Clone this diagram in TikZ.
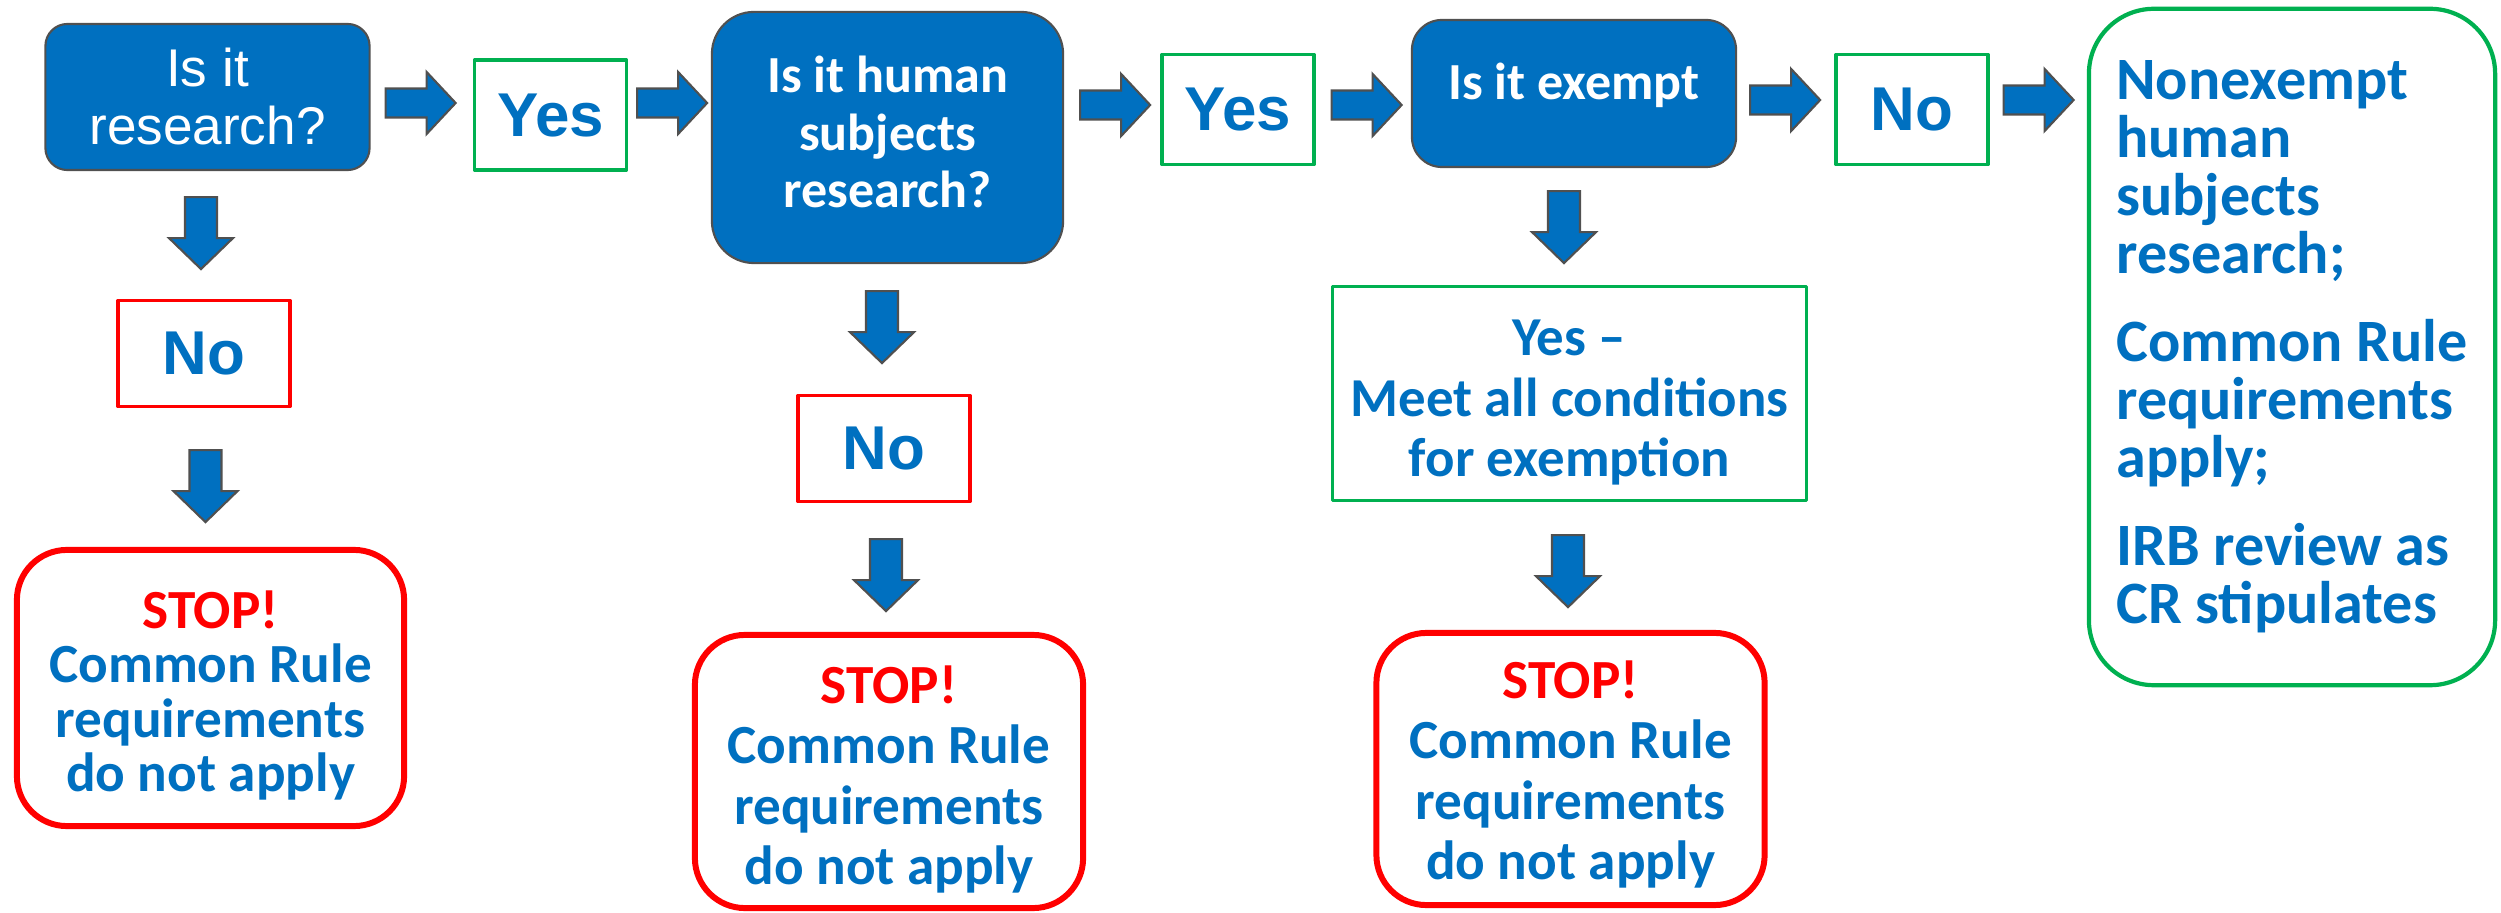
\documentclass[tikz,border=0pt]{standalone}
\usepackage{fontspec}
\newfontfamily\calibri{Carlito}
\newfontfamily\arial{Liberation Sans}
\usetikzlibrary{calc}

\definecolor{hsblue}{HTML}{0070C0}
\definecolor{hsgray}{HTML}{505050}
\definecolor{hsred}{HTML}{FF0000}
\definecolor{hsgreen}{HTML}{00B050}

\tikzset{
	qbox/.style={draw=hsgray, line width=0.6pt, fill=hsblue, text=white, align=center,
		font=\calibri\bfseries\fontsize{14.8}{16.4}\selectfont},
	ansyes/.style={draw=hsgreen, line width=0.9pt, text=hsblue, inner sep=0pt,
		font=\arial\bfseries\fontsize{17.6}{17.6}\selectfont,
		minimum width=1.52cm, text height=0.76cm, text depth=0.34cm},
	ansno/.style={ansyes, draw=hsred, minimum width=1.72cm, text height=0.74cm, text depth=0.32cm},
	stopbox/.style={draw=hsred, line width=1.7pt, rounded corners=0.5cm, text=hsblue, align=center,
		font=\calibri\bfseries\fontsize{15.7}{17.1}\selectfont,
		minimum width=3.88cm, minimum height=2.73cm},
	blockarr/.style={draw=hsgray, line width=0.6pt, fill=hsblue, line join=miter},
	rarr/.pic={\draw[blockarr] (0,-14.5) -- (41,-14.5) -- (41,-31) -- (70,0) -- (41,31) -- (41,14.5) -- (0,14.5) -- cycle;},
	darr/.pic={\draw[blockarr] (-16,0) -- (16,0) -- (16,41) -- (32,41) -- (0,72) -- (-32,41) -- (-16,41) -- cycle;},
}

\begin{document}
\begin{tikzpicture}[x=0.01cm, y=-0.01cm, line join=round]
\useasboundingbox (0,0) rectangle (2501,913);

%========================
% questions
%========================
\node[qbox, rounded corners=0.22cm, minimum width=3.24cm, minimum height=1.46cm,
	font=\arial\fontsize{15.1}{16.5}\selectfont] (q1) at (207.5,97) {Is it\\research?};
\node[qbox, rounded corners=0.42cm, minimum width=3.51cm, minimum height=2.51cm,
	text height=1.41cm] (q2) at (887.5,137.5) {Is it human\\subjects\\research?};
\node[qbox, rounded corners=0.3cm, minimum width=3.24cm, inner ysep=0pt,
	text height=0.8cm, text depth=0.67cm] (q3) at (1574,93.5) {Is it exempt};

%========================
% answers
%========================
\node[ansyes] (y1) at (550.5,115) {Yes};
\node[ansyes] (y2) at (1238,109.5) {Yes};
\node[ansyes] (n3) at (1912,109.5) {No};
\node[ansno] (n1) at (204,353.5) {No};
\node[ansno] (n2) at (884,448.5) {No};

\node[draw=hsgreen, line width=0.9pt, text=hsblue, align=center,
	font=\calibri\bfseries\fontsize{15.6}{17.1}\selectfont,
	minimum width=4.74cm, minimum height=2.14cm, text height=1.74cm]
	(e1) at (1569.5,393.5) {Yes –\\Meet all conditions\\for exemption};

% stop boxes
\node[stopbox, text height=2.15cm, font=\calibri\bfseries\fontsize{15.7}{15.4}\selectfont,
	minimum height=2.76cm, minimum width=3.87cm]
	(s1) at (210.5,688) {\textcolor{hsred}{STOP!}\\Common Rule\\requirements\\do not apply};
\node[stopbox, text height=2.34cm] (s2) at (889,771.5)
	{\textcolor{hsred}{STOP!}\\Common Rule\\requirements\\do not apply};
\node[stopbox, text height=2.29cm, minimum height=2.72cm] (s3) at (1570.5,769)
	{\textcolor{hsred}{STOP!}\\Common Rule\\requirements\\do not apply};

% final outcome
\node[draw=hsgreen, line width=1.2pt, rounded corners=0.65cm, text=hsblue, align=left,
	font=\calibri\bfseries\fontsize{17.1}{16.5}\selectfont,
	minimum width=4.06cm, minimum height=6.76cm, text height=5.62cm]
	(nx) at (2292,347) {Nonexempt\\human\\subjects\\research;\\[8.5pt]Common Rule\\requirements\\apply;\\[8.5pt]IRB review as\\CR stipulates};

%========================
% block arrows
%========================
\pic at ($(q1.east)+(15,6)$) {rarr};
\pic at ($(y1.east)+(9,-12)$) {rarr};
\pic at ($(q2.east)+(16,-32.5)$) {rarr};
\pic at ($(y2.east)+(16,-4.5)$) {rarr};
\pic at ($(q3.east)+(13,6.5)$) {rarr};
\pic at ($(n3.east)+(14,-9.5)$) {rarr};

\pic at ($(q1.south)+(-6.5,26)$) {darr};
\pic at ($(n1.south)+(1.5,42)$) {darr};
\pic at ($(q2.south)+(-5.5,27)$) {darr};
\pic at ($(n2.south)+(2,36)$) {darr};
\pic at ($(q3.south)+(-10,23)$) {darr};
\pic at ($(e1.south)+(-1.5,33)$) {darr};

\end{tikzpicture}
\end{document}
